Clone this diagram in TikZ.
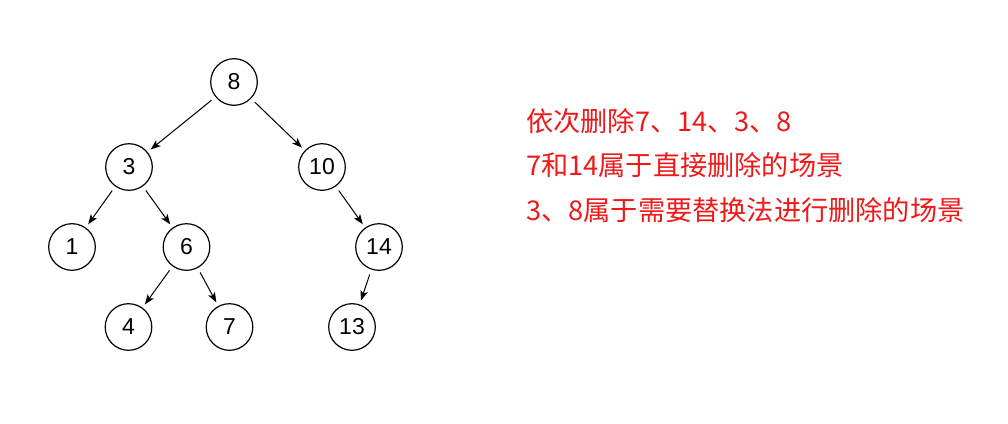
\documentclass[tikz,border=0pt]{standalone}
\usepackage{fontspec}
\setmainfont{Liberation Sans}
\newfontfamily\cjk{Noto Sans CJK SC}
\usetikzlibrary{arrows.meta}
\definecolor{txtred}{RGB}{240,25,25}
\begin{document}
\begin{tikzpicture}[x=1pt,y=-1pt,
  tnode/.style={circle,draw,line width=1.2pt,minimum size=46.6pt,inner sep=0pt,font=\fontsize{23}{26}\selectfont},
  edge/.style={-{Stealth[length=10pt,width=7.5pt,inset=2.5pt]},line width=1pt,shorten <=5pt,shorten >=4pt},
  note/.style={anchor=base west,inner sep=0pt,text=txtred,font=\cjk\fontsize{27.2}{30}\selectfont}]
\useasboundingbox[fill=white] (0,0) rectangle (1008,423);
\node[tnode] (n8) at (234,82) {8};
\node[tnode] (n3) at (129,167) {3};
\node[tnode] (n10) at (322,167) {10};
\node[tnode] (n1) at (72,247) {1};
\node[tnode] (n6) at (186.5,247) {6};
\node[tnode] (n14) at (379,247) {14};
\node[tnode] (n4) at (128.5,327) {4};
\node[tnode] (n7) at (229.5,327) {7};
\node[tnode] (n13) at (352,327) {13};
\draw[edge] (n8) -- (n3);
\draw[edge] (n8) -- (n10);
\draw[edge] (n3) -- (n1);
\draw[edge] (n3) -- (n6);
\draw[edge] (n10) -- (n14);
\draw[edge] (n6) -- (n4);
\draw[edge] (n6) -- (n7);
\draw[edge] (n14) -- (n13);
\node[note] (t1) at (526,131) {依次删除7、14、3、8};
\node[note] (t2) at (526,175) {7和14属于直接删除的场景};
\node[note] (t3) at (526,220) {3、8属于需要替换法进行删除的场景};
\end{tikzpicture}
\end{document}
